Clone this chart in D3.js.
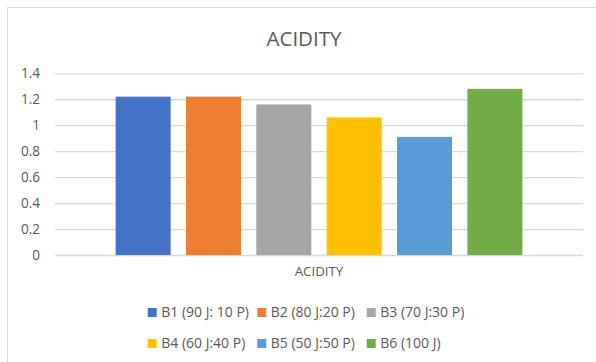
<!DOCTYPE html>
<html>
<head>
<meta charset="utf-8">
<script src="https://cdn.jsdelivr.net/npm/d3@7"></script>
<style>
  html, body { margin: 0; padding: 0; background: #fff; }
  svg { display: block; }
  text { font-family: "Open Sans", "Noto Sans", sans-serif; fill: #595959; }
</style>
</head>
<body>
<svg id="chart" width="596" height="362"></svg>
<script>
// Acidity of the blends
const categories = ["ACIDITY"];
const seriesNames = ["B1 (90 J: 10 P)", "B2 (80 J:20 P)", "B3 (70 J:30 P)",
                     "B4 (60 J:40 P)", "B5 (50 J:50 P)", "B6 (100 J)"];
const seriesValues = [1.22, 1.22, 1.16, 1.06, 0.91, 1.28];
const seriesColors = ["#4472C4", "#ED7D31", "#A5A5A5", "#FFC000", "#5B9BD5", "#70AD47"];
const yTicks = [0, 0.2, 0.4, 0.6, 0.8, 1, 1.2, 1.4];
const chartTitle = "ACIDITY";

const svg = d3.select("#chart");

// chart area frame
svg.append("rect")
  .attr("x", 7.5).attr("y", 7.5)
  .attr("width", 600).attr("height", 400)
  .attr("fill", "#fff")
  .attr("stroke", "#d9d9d9").attr("stroke-width", 1);

const plot = { left: 55, right: 583, top: 73.3, bottom: 255 };

const y = d3.scaleLinear().domain([0, 1.4]).range([plot.bottom, plot.top]);

const x0 = d3.scaleBand().domain(categories)
  .range([plot.left, plot.right]).paddingInner(0).paddingOuter(0.149);
const x1 = d3.scaleBand().domain(seriesNames)
  .range([0, x0.bandwidth()]).paddingInner(0.218).paddingOuter(0);

// gridlines
const yAxis = d3.axisLeft(y).tickValues(yTicks)
  .tickSize(-(plot.right - plot.left)).tickPadding(15)
  .tickFormat(d => d3.format("~g")(d));
const gy = svg.append("g").attr("transform", `translate(${plot.left},0)`).call(yAxis);
gy.select(".domain").remove();
gy.selectAll(".tick line").attr("stroke", "#d9d9d9").attr("stroke-width", 1.3);
gy.selectAll(".tick text")
  .style("font-size", "13.6px").attr("fill", "#595959");

// bars
const rows = seriesNames.map((name, i) => ({ name, value: seriesValues[i], color: seriesColors[i] }));
svg.append("g").selectAll("rect")
  .data(rows).join("rect")
  .attr("x", d => x0(categories[0]) + x1(d.name))
  .attr("y", d => y(d.value))
  .attr("width", x1.bandwidth())
  .attr("height", d => y(0) - y(d.value))
  .attr("fill", d => d.color);

// category label
const xAxis = d3.axisBottom(x0).tickSize(0).tickPadding(12);
const gx = svg.append("g").attr("transform", `translate(0,${plot.bottom})`).call(xAxis);
gx.select(".domain").remove();
gx.selectAll(".tick text").style("font-size", "13.3px").attr("fill", "#595959");

// title
svg.append("text")
  .attr("x", 304).attr("y", 46)
  .attr("text-anchor", "middle")
  .style("font-size", "20.5px")
  .text(chartTitle);

// legend: 3 columns, 2 rows
const colStarts = [147.7, 257.3, 366.7];
const rowY = [312.5, 343.5];
const legend = svg.append("g").selectAll("g")
  .data(rows).join("g")
  .attr("transform", (d, i) => `translate(${colStarts[i % 3]},${rowY[Math.floor(i / 3)]})`);
legend.append("rect")
  .attr("x", 0).attr("y", -4.5).attr("width", 9).attr("height", 9)
  .attr("fill", d => d.color);
legend.append("text")
  .attr("x", 13.5).attr("y", 0).attr("dy", "0.35em")
  .style("font-size", "14px")
  .text(d => d.name);
</script>
</body>
</html>
